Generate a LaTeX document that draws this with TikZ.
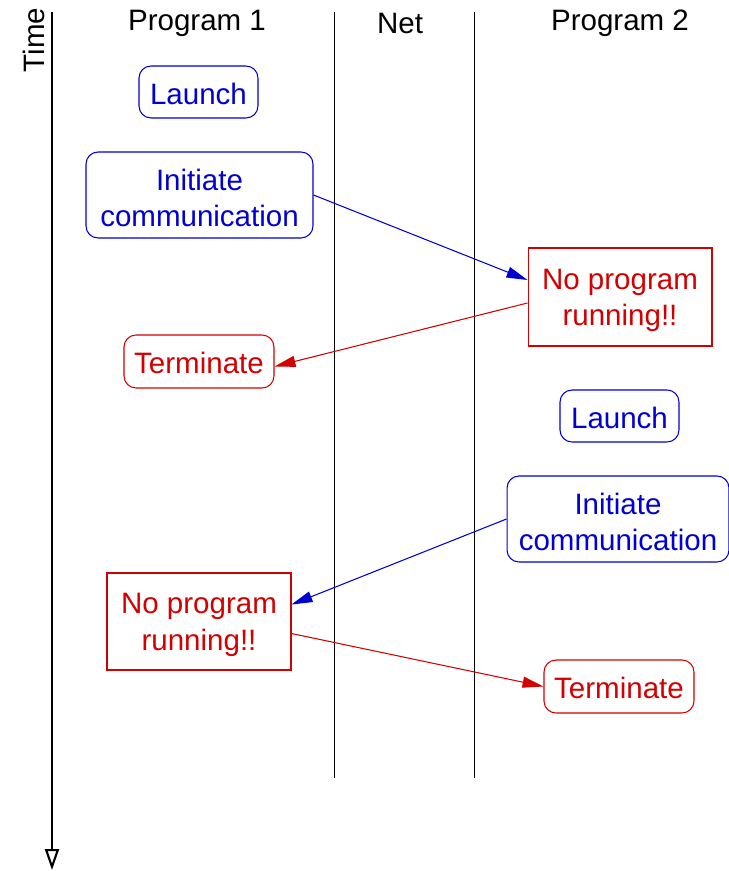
\documentclass[tikz,border=0pt]{standalone}
\usepackage{fontspec}
\setmainfont{Liberation Sans}
\usetikzlibrary{arrows.meta}

\definecolor{msgblue}{RGB}{0,0,210}
\definecolor{msgred}{RGB}{210,0,0}
\newcommand{\oneline}{\rule{0pt}{0.5cm}}
\newcommand{\twoline}{\rule{0pt}{0.54cm}}

\begin{document}
\begin{tikzpicture}[x=0.02cm,y=-0.02cm,
    every node/.style={font=\fontsize{16.8}{20.8}\selectfont, align=center, inner sep=0pt},
    evt/.style={draw, rounded corners=0.24cm, line width=0.6pt},
    fail/.style={draw, line width=0.6pt},
    okay/.style={msgblue},
    err/.style={msgred},
    msg/.style={line width=0.6pt, -{Triangle[length=0.42cm,width=0.22cm]}}]
          \useasboundingbox (0,0) rectangle (729,871);
          % time axis
          \coordinate (t0) at (52,12);
          \coordinate (t1) at (52,870);
          \draw [line width=1.2pt, -{Triangle[open,length=0.42cm,width=0.28cm]}] (t0) -- (t1);
          \node [rotate=90] (time) at (34,40) {Time};
          % columns
          \node (prog1) at (197,23) {Program 1};
          \node (net) at (400,23) {Net};
          \node (prog2) at (620,23) {Program 2};
          \coordinate (netl0) at (334,12);
          \coordinate (netl1) at (334,778);
          \coordinate (netr0) at (474,12);
          \coordinate (netr1) at (474,778);
          \draw [line width=0.45pt] (netl0) -- (netl1);
          \draw [line width=0.45pt] (netr0) -- (netr1);
          % events
          \node [evt, okay, minimum width=2.38cm, minimum height=1.04cm] (launchA) at (198.5,92) {\oneline Launch};
          \node [evt, okay, minimum width=4.54cm, minimum height=1.72cm] (initA) at (199.5,195) {\twoline Initiate\\communication};
          \node [fail, err, minimum width=3.68cm, minimum height=1.96cm] (noneB) at (620,297) {\twoline No program\\running!!};
          \node [evt, err, minimum width=3.0cm, minimum height=1.06cm] (termA) at (199,361.5) {\oneline Terminate};
          \node [evt, okay, minimum width=2.38cm, minimum height=1.04cm] (launchB) at (619.5,416) {\oneline Launch};
          \node [evt, okay, minimum width=4.44cm, minimum height=1.72cm] (initB) at (618,519) {\twoline Initiate\\communication};
          \node [fail, err, minimum width=3.68cm, minimum height=1.94cm] (noneA) at (199,621.5) {\twoline No program\\running!!};
          \node [evt, err, minimum width=3.0cm, minimum height=1.06cm] (termB) at (619,686.5) {\oneline Terminate};
          % messages
          \draw [msg, okay] (initA.east) -- ([yshift=0.34cm]noneB.west);
          \draw [msg, err] ([yshift=-0.12cm]noneB.west) -- ([yshift=-0.1cm]termA.east);
          \draw [msg, okay] (initB.west) -- ([yshift=0.34cm]noneA.east);
          \draw [msg, err] ([yshift=-0.24cm]noneA.east) -- (termB.west);
     \end{tikzpicture}
\end{document}
